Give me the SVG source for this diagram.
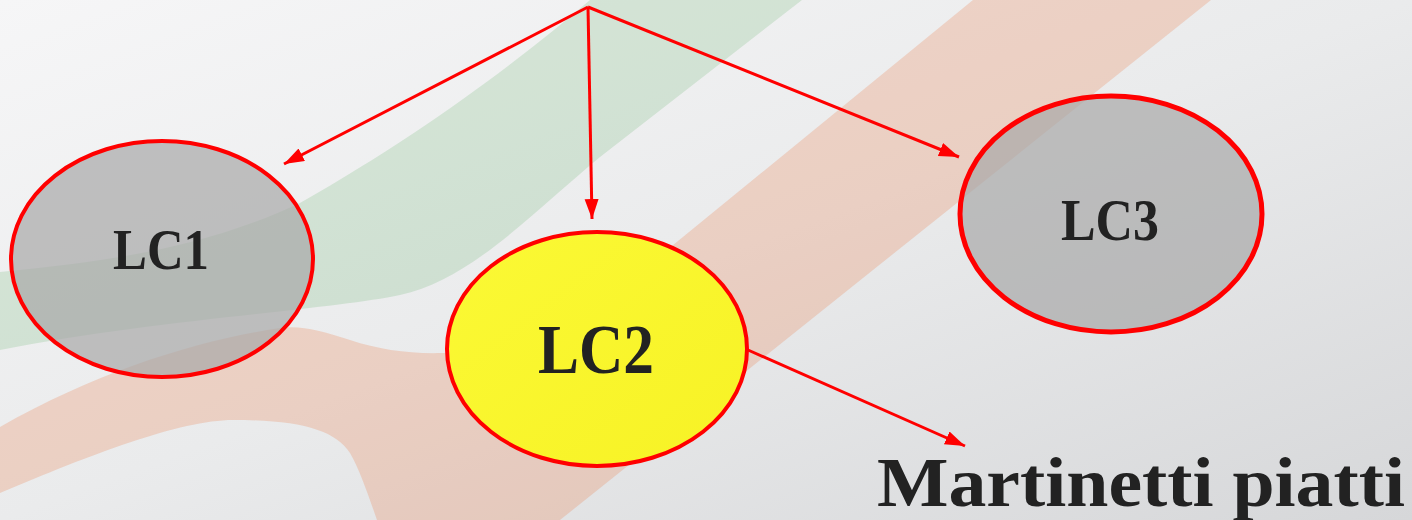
<svg xmlns="http://www.w3.org/2000/svg" width="1412" height="520" viewBox="0 0 1412 520">
<defs>
<linearGradient id="bg" x1="0" y1="0" x2="1" y2="1">
<stop offset="0" stop-color="#f6f6f7"/>
<stop offset="0.5" stop-color="#eaebec"/>
<stop offset="1" stop-color="#d6d7d9"/>
</linearGradient>
<linearGradient id="yel" x1="0" y1="0" x2="1" y2="1">
<stop offset="0" stop-color="#fbf935"/>
<stop offset="1" stop-color="#f7f225"/>
</linearGradient>
<marker id="ah" markerUnits="userSpaceOnUse" markerWidth="22" markerHeight="16" refX="20" refY="7" orient="auto">
<path d="M0,0 L20,7 L0,14 Z" fill="#ff0000"/>
</marker>
<style>
.node ellipse{stroke:#ff0000;stroke-width:4}
.gray{fill:#a8a8a8;fill-opacity:0.7}
.lbl{font-family:"Liberation Serif","Times New Roman",serif;font-weight:bold;fill:#222222;text-anchor:middle}
.conn line{stroke:#ff0000;stroke-width:3;marker-end:url(#ah)}
</style>
</defs>
<rect x="0" y="0" width="1412" height="520" fill="url(#bg)"/>
<g id="background-bands">
<path d="M590,0 C520,60 420,135 300,203 C200,250 100,262 0,272 L0,350 C150,320 330,310 400,295 C470,280 530,215 600,157 L802,0 Z" fill="#61b166" fill-opacity="0.2"/>
<path d="M973,0 L667,250 C560,335 480,353 443,353 C410,354 380,350 350,340 C320,330 300,325 280,328 C200,340 100,370 0,427 L0,493 C90,455 180,420 233,420 C300,420 335,430 350,453 C360,470 370,500 377,520 L560,520 L1211,0 Z" fill="#ec7c48" fill-opacity="0.25"/>
</g>
<g id="connectors" class="conn">
<line x1="588" y1="7" x2="284" y2="164"/>
<line x1="588" y1="7" x2="592" y2="219"/>
<line x1="588" y1="7" x2="959" y2="157"/>
<line x1="748" y1="350" x2="965" y2="446"/>
</g>
<g id="LC1" class="node">
<ellipse cx="162" cy="259" rx="151" ry="118" class="gray"/>
<text x="161" y="269" class="lbl" font-size="58" textLength="96" lengthAdjust="spacingAndGlyphs">LC1</text>
</g>
<g id="LC2" class="node">
<ellipse cx="597" cy="349" rx="150" ry="117" fill="url(#yel)"/>
<text x="596" y="373" class="lbl" font-size="70" textLength="116" lengthAdjust="spacingAndGlyphs">LC2</text>
</g>
<g id="LC3" class="node">
<ellipse cx="1111" cy="214" rx="151" ry="118" class="gray" style="stroke-width:5"/>
<text x="1110" y="240" class="lbl" font-size="60" textLength="98" lengthAdjust="spacingAndGlyphs">LC3</text>
</g>
<g id="Martinetti">
<text x="1141" y="506" class="lbl" font-size="69" textLength="528" lengthAdjust="spacingAndGlyphs">Martinetti piatti</text>
</g>
</svg>
